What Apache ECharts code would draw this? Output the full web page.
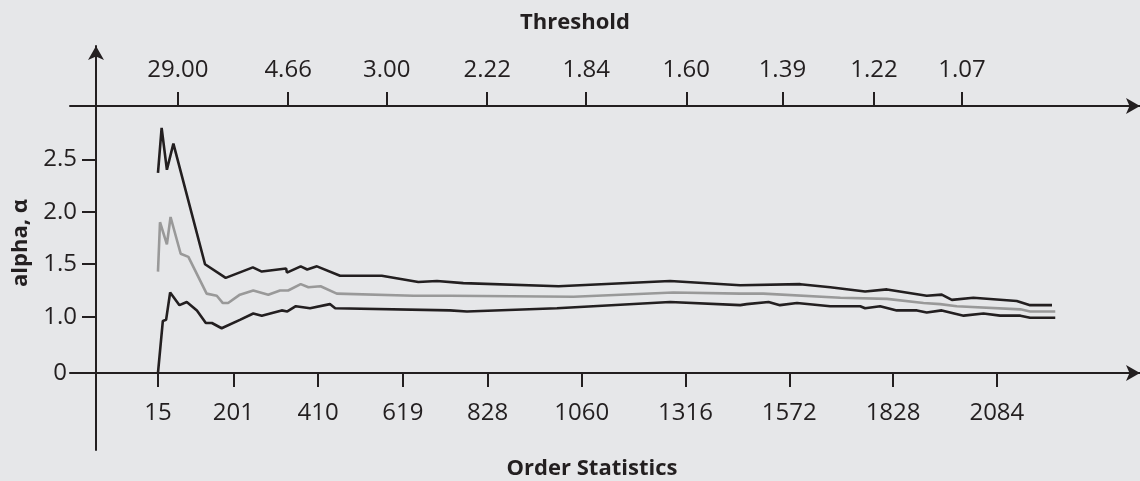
<!DOCTYPE html>
<html>
<head>
<meta charset="utf-8">
<script src="https://cdn.jsdelivr.net/npm/echarts@6/dist/echarts.min.js"></script>
<style>
  html, body { margin: 0; padding: 0; background: #e6e7e9; }
  #chart { width: 1140px; height: 481px; }
</style>
</head>
<body>
<div id="chart"></div>
<script>
// ---- data ----
const orderStatTicks = [15, 201, 410, 619, 828, 1060, 1316, 1572, 1828, 2084];
const thresholdTickK = [64, 336, 579, 827, 1071, 1318, 1555, 1781, 1998];
const thresholdLabels = ['29.00', '4.66', '3.00', '2.22', '1.84', '1.60', '1.39', '1.22', '1.07'];
const alphaTicks = [0, 1.0, 1.5, 2.0, 2.5];

const upperK = [15,24,37,53,131,182,249,271,331,333,367,383,407,464,567,657,703,768,1003,1278,1451,1599,1673,1759,1813,1911,1948,1973,2026,2133,2166,2220];
const upperAlpha = [2.37,2.80,2.40,2.65,1.50,1.37,1.47,1.43,1.46,1.42,1.48,1.45,1.48,1.39,1.39,1.33,1.34,1.32,1.29,1.34,1.30,1.31,1.28,1.24,1.26,1.20,1.21,1.16,1.18,1.15,1.11,1.11];

const midK = [15,20,37,46,71,90,135,160,175,188,217,250,287,316,336,367,386,416,456,645,735,1040,1286,1451,1508,1698,1813,1903,1944,1985,2142,2166,2228];
const midAlpha = [1.43,1.90,1.69,1.95,1.60,1.57,1.22,1.20,1.13,1.13,1.21,1.25,1.21,1.25,1.25,1.31,1.28,1.29,1.22,1.20,1.20,1.19,1.23,1.22,1.22,1.18,1.17,1.13,1.12,1.10,1.07,1.05,1.05];

const lowK = [15,27,35,45,68,86,111,133,148,172,217,250,271,320,334,355,390,439,452,735,777,999,1278,1451,1467,1521,1549,1591,1673,1747,1759,1796,1837,1887,1911,1948,2002,2051,2092,2142,2166,2228];
const lowAlpha = [0,0.96,0.97,1.23,1.11,1.14,1.06,0.94,0.94,0.89,0.97,1.03,1.01,1.06,1.05,1.10,1.08,1.12,1.08,1.06,1.05,1.08,1.14,1.11,1.12,1.14,1.11,1.13,1.10,1.10,1.08,1.10,1.06,1.06,1.04,1.06,1.01,1.03,1.01,1.01,0.99,0.99];

// broken y axis: the "0" tick sits just below the 1.0 region
const ZERO_SHOWN_AT = 0.4635;
const shown = v => (v === 0 ? ZERO_SHOWN_AT : v);
const pairs = (ks, vs) => ks.map((k, i) => [k, shown(vs[i])]);

const INK = '#231f20';
const FONT = 'Open Sans';
const LABEL_SIZE = 24;

const chart = echarts.init(document.getElementById('chart'), null, { renderer: 'canvas' });

const xMin = -202, xMax = 2437;
const yTickVals = alphaTicks.map(shown);

chart.setOption({
  backgroundColor: '#e6e7e9',
  animation: false,
  title: [
    { text: 'Threshold', left: 570, top: 7, textAlign: 'center',
      textStyle: { fontFamily: FONT, fontWeight: 'bold', fontSize: 22, color: INK } },
    { text: 'Order Statistics', left: 587, top: 453, textAlign: 'center',
      textStyle: { fontFamily: FONT, fontWeight: 'bold', fontSize: 22, color: INK } }
  ],
  grid: { left: 70, right: 0, top: 46, bottom: 31, containLabel: false, outerBoundsMode: 'none' },
  xAxis: [
    {
      type: 'value', position: 'bottom', offset: -77, min: xMin, max: xMax,
      splitLine: { show: false },
      axisLine: { show: true, onZero: false, lineStyle: { color: INK, width: 2 }, symbol: ['none', 'arrow'], symbolSize: [12, 14] },
      axisTick: { show: true, length: 14, lineStyle: { color: INK, width: 2 }, customValues: orderStatTicks },
      axisLabel: { customValues: orderStatTicks, margin: 28, color: INK, fontFamily: FONT, fontSize: LABEL_SIZE,
        formatter: v => String(Math.round(v)) }
    },
    {
      type: 'value', position: 'top', offset: -60, min: xMin, max: xMax,
      splitLine: { show: false },
      axisLine: { show: true, onZero: false, lineStyle: { color: INK, width: 2 }, symbol: ['none', 'arrow'], symbolSize: [12, 14] },
      axisTick: { show: true, length: 14, lineStyle: { color: INK, width: 2 }, customValues: thresholdTickK },
      axisLabel: {
        customValues: thresholdTickK, margin: 24, color: INK, fontFamily: FONT, fontSize: LABEL_SIZE,
        formatter: v => { const i = thresholdTickK.indexOf(Math.round(v)); return i >= 0 ? thresholdLabels[i] : ''; }
      }
    }
  ],
  yAxis: {
    type: 'value', position: 'left', offset: -26, min: -0.2704, max: 3.5798,
    splitLine: { show: false },
    axisLine: { show: true, onZero: false, lineStyle: { color: INK, width: 2 }, symbol: ['none', 'arrow'], symbolSize: [12, 14] },
    axisTick: { show: true, length: 14, lineStyle: { color: INK, width: 2 }, customValues: yTickVals },
    axisLabel: {
      customValues: yTickVals, margin: 19, color: INK, fontFamily: FONT, fontSize: LABEL_SIZE,
      formatter: v => (Math.abs(v - ZERO_SHOWN_AT) < 1e-6 ? '{z|0}' : v.toFixed(1)),
      rich: { z: { padding: [0, 10, 0, 0], fontFamily: FONT, fontSize: LABEL_SIZE, color: INK } }
    },
    name: 'alpha, α', nameLocation: 'middle', nameGap: 64, nameRotate: 90,
    nameTextStyle: { fontFamily: FONT, fontWeight: 'bold', fontSize: 22, color: INK, padding: [0, 0, 0, 10] }
  },
  series: [
    { type: 'line', name: 'estimate', data: pairs(midK, midAlpha), showSymbol: false, symbol: 'none',
      lineStyle: { color: '#999999', width: 2.6 }, z: 2 },
    { type: 'line', name: 'upper', data: pairs(upperK, upperAlpha), showSymbol: false, symbol: 'none',
      lineStyle: { color: INK, width: 2.6 }, z: 3 },
    { type: 'line', name: 'lower', data: pairs(lowK, lowAlpha), showSymbol: false, symbol: 'none',
      lineStyle: { color: INK, width: 2.6 }, z: 3 }
  ]
});
</script>
</body>
</html>
